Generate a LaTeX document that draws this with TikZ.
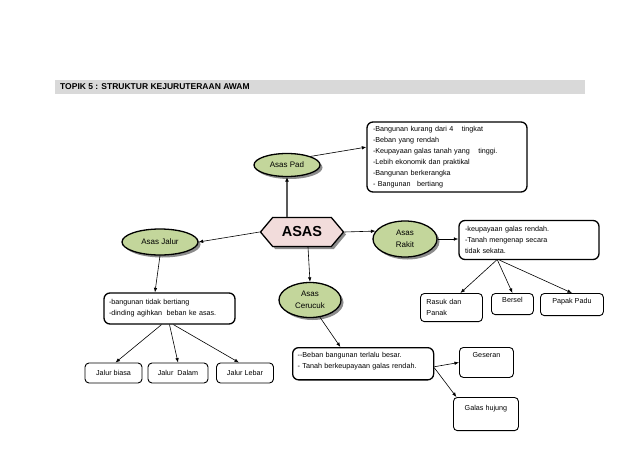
\documentclass[tikz,border=0pt]{standalone}
\usepackage{fontspec}
\setmainfont{Liberation Sans}
\usetikzlibrary{arrows.meta,shapes.geometric,shapes.symbols,shadows,calc}
\definecolor{ellgreen}{HTML}{C3D69B}
\definecolor{hexpink}{HTML}{F2DCDB}
\definecolor{bargray}{HTML}{D9D9D9}
\newcommand{\smalltxt}{\fontsize{7.2}{11}\selectfont}
\tikzset{
  myshadow/.style={drop shadow={shadow xshift=2.5pt,shadow yshift=-2.5pt,fill=black!45,opacity=1}},
  ellnode/.style={ellipse,draw,line width=1.3pt,fill=ellgreen,myshadow,inner sep=0pt,align=center,font=\fontsize{8}{12.5}\selectfont},
  bigbox/.style={draw,line width=1.3pt,rounded corners=6pt,fill=white,align=left,inner sep=0pt,font=\smalltxt},
  smallbox/.style={draw,line width=0.9pt,rounded corners=4pt,fill=white,inner sep=0pt,align=left,font=\smalltxt},
  arr/.style={-{Latex[length=4.5pt,width=3.5pt]},line width=0.6pt,black},
}
\begin{document}
\begin{tikzpicture}[x=1pt,y=-1pt]
\useasboundingbox (0,0) rectangle (638,452);
% title bar
\fill[bargray] (55,80) rectangle (585,94);
\node[anchor=west,inner sep=0pt,font=\fontsize{8.5}{10}\selectfont\bfseries] (title) at (60,87) {TOPIK 5 : STRUKTUR KEJURUTERAAN AWAM};

% main nodes
\node[signal,signal to=east and west,signal pointer angle=100,draw,line width=1.3pt,fill=hexpink,myshadow,minimum width=83pt,minimum height=29pt,inner sep=0pt,font=\fontsize{14.5}{16}\selectfont\bfseries] (asas) at (302,232) {ASAS};

\node[ellnode,minimum width=66pt,minimum height=23pt] (pad) at (287,165) {Asas Pad};
\node[ellnode,minimum width=76pt,minimum height=26pt] (jalur) at (160,242) {Asas Jalur};
\node[ellnode,minimum width=64pt,minimum height=36pt] (rakit) at (405,239) {Asas\\Rakit};
\node[ellnode,minimum width=62pt,minimum height=35pt] (cerucuk) at (310,300) {Asas\\Cerucuk};

% boxes
\node[bigbox,minimum width=160pt,minimum height=70pt,text width=148pt] (padbox) at (447,157) {-Bangunan kurang dari 4\hspace{6pt} tingkat\\-Beban yang rendah\\-Keupayaan galas tanah yang\hspace{6pt} tinggi.\\-Lebih ekonomik dan praktikal\\-Bangunan berkerangka\\- Bangunan\hspace{4pt} bertiang};
\node[bigbox,minimum width=140pt,minimum height=39pt,text width=128pt] (rakitbox) at (529,240) {-keupayaan galas rendah.\\-Tanah mengenap secara\\tidak sekata.};
\node[bigbox,minimum width=131pt,minimum height=31pt,text width=121pt] (jalurbox) at (169.5,308.5) {-bangunan tidak bertiang\\-dinding agihkan\hspace{2pt} beban ke asas.};
\node[bigbox,anchor=north west,minimum width=141pt,text width=131pt,inner ysep=5pt,text depth=17pt] (cerbox) at (292,347) {-{}-Beban bangunan terlalu besar.\\- Tanah berkeupayaan galas rendah.};

% small boxes
\node[smallbox,minimum width=57pt,minimum height=20pt,align=center] (jb1) at (113.5,373) {Jalur biasa};
\node[smallbox,minimum width=60pt,minimum height=20pt,align=center] (jb2) at (178,373) {Jalur\hspace{2pt} Dalam};
\node[smallbox,minimum width=57pt,minimum height=20pt,align=center] (jb3) at (245,373) {Jalur Lebar};

\node[smallbox,anchor=north west,minimum width=62pt,text width=50pt,inner xsep=6pt,inner ysep=6pt,text depth=11pt] (rasuk) at (420,293) {Rasuk dan\\Panak};
\node[smallbox,anchor=north west,minimum width=42pt,align=center,inner ysep=4pt,text depth=8pt] (bersel) at (491,293) {Bersel};
\node[smallbox,anchor=north west,minimum width=63pt,align=center,inner ysep=5pt,text depth=7pt] (papak) at (540,293) {Papak Padu};

\node[smallbox,anchor=north west,minimum width=54pt,align=center,inner ysep=5pt,text depth=15pt] (geseran) at (459,347) {Geseran};
\node[smallbox,anchor=north west,minimum width=65pt,align=center,inner ysep=8pt,text depth=12pt] (galas) at (453,397) {Galas hujung};

% connectors
\draw[line width=1.6pt,gray!70!black,-{Latex[length=4.5pt,width=4pt,black]}] (asas.north -| pad.south) -- (pad.south);
\draw[arr] (pad.20) -- (padbox.173);
\draw[arr] (asas.west) -- (jalur.east);
\draw[arr] (asas.east) -- (rakit.165);
\draw[arr] (rakit.east) -- (rakitbox.west |- rakit.east);
\draw[arr] ([xshift=6pt]asas.south) -- (cerucuk.north);
\draw[arr] (cerucuk.-60) -- ($(cerbox.north west)!0.34!(cerbox.north east)$);
\draw[arr] ([yshift=-3pt]cerbox.east) -- (geseran.west);
\draw[arr] ([yshift=-4pt]cerbox.east) -- (galas.150);

\draw[arr] (jalur.south) -- ($(jalurbox.north west)!0.39!(jalurbox.north east)$);
\coordinate (jb) at ($(jalurbox.south west)!0.5!(jalurbox.south east)$);
\draw[arr] ([xshift=-8pt]jb) -- ([xshift=2pt]jb1.north);
\draw[arr] (jb) -- (jb2.north);
\draw[arr] ([xshift=4pt]jb) -- ([xshift=-6pt]jb3.north);

\coordinate (rb) at ($(rakitbox.south west)!0.27!(rakitbox.south east)$);
\draw[arr] (rb) -- ([xshift=9pt]rasuk.north);
\draw[arr] ([xshift=1pt]rb) -- (bersel.north);
\draw[arr] ([xshift=3pt]rb) -- (papak.north);
\end{tikzpicture}
\end{document}
